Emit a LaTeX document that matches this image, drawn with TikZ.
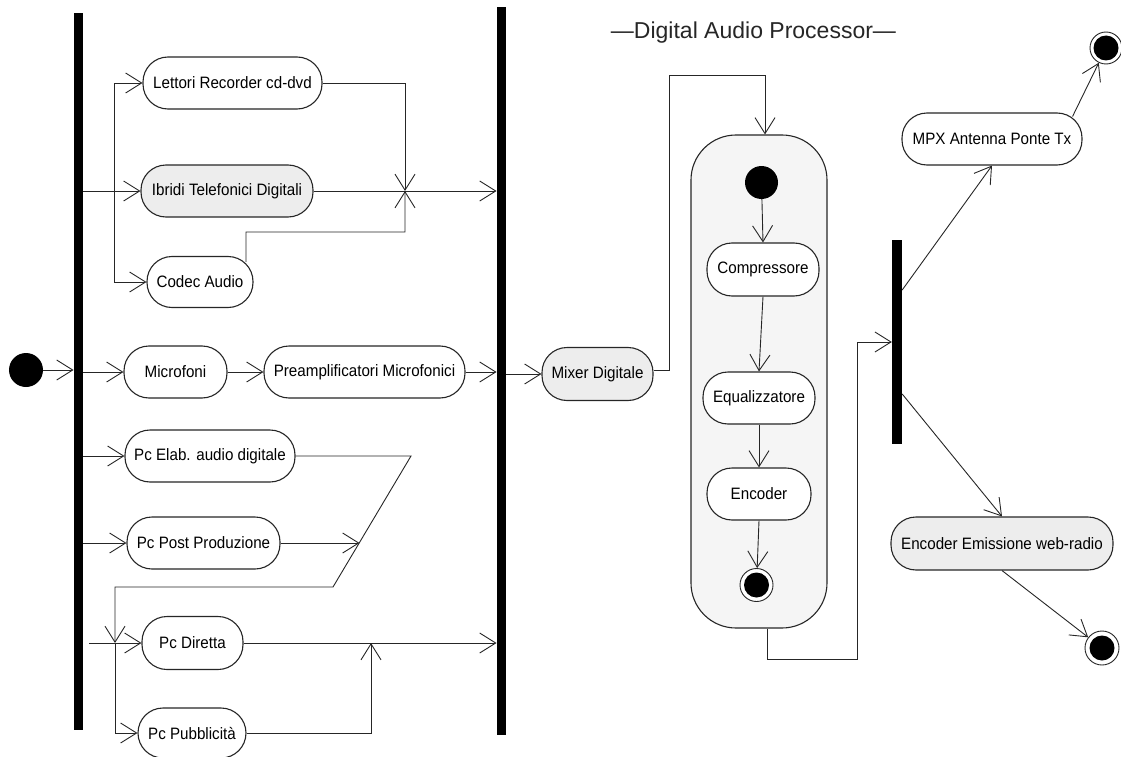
\documentclass[tikz,border=0pt]{standalone}
\usepackage{fontspec}
\setmainfont{Liberation Sans}
\newfontfamily\nodefont{Liberation Sans}[FakeStretch=0.92]
\usetikzlibrary{arrows.meta,calc}
\pgfdeclarelayer{back}
\pgfdeclarelayer{mid}
\pgfsetlayers{back,mid,main}

\begin{document}
\begin{tikzpicture}[x=1bp,y=-1bp,
  ink/.style={draw=black!85},
  act/.style={ink, line width=1.1bp, rounded corners=25bp, minimum height=52bp,
    inner sep=0pt, fill=white, font=\nodefont\fontsize{16.5bp}{19bp}\selectfont},
  shaded/.style={fill=gray!14},
  syncbar/.style={fill=black, draw=none, inner sep=0pt},
  initial/.style={circle, fill=black, inner sep=0pt, minimum size=34bp},
  final/.style={circle, draw=black!85, line width=0.9bp, fill=white, inner sep=0pt,
    minimum size=33bp,
    path picture={\fill[black] (path picture bounding box.center) circle (12.5bp);}},
  flow/.style={ink, line width=0.9bp, -{Straight Barb[length=16bp,width=20bp]}},
  wire/.style={ink, line width=0.9bp},
]
\useasboundingbox (0,0) rectangle (1121,757);

% title
\node[font=\fontsize{23bp}{27bp}\selectfont, text=black!85, anchor=base, inner sep=0pt]
  (title) at (753.5,38.5) {—Digital Audio Processor—};

% synchronisation bars
\node[syncbar, minimum width=9.5bp, minimum height=717bp] (barL) at (78.5,371.5) {};
\node[syncbar, minimum width=9.5bp, minimum height=728bp] (barM) at (501.5,371) {};
\node[syncbar, minimum width=10bp, minimum height=204bp] (barR) at (897,342) {};

% initial node
\node[initial] (start1) at (26,370) {};

% input sources
\node[act, minimum width=179bp] (lettori) at (232.5,83) {Lettori Recorder cd-dvd};
\node[act, shaded, minimum width=172bp] (ibridi) at (227,191) {Ibridi Telefonici Digitali};
\node[act, minimum width=106bp, minimum height=51bp] (codec) at (200,282) {Codec Audio};
\node[act, minimum width=103bp] (microfoni) at (175.5,372) {Microfoni};
\node[act, minimum width=201bp] (preamp) at (364.5,372) {Preamplificatori Microfonici};
\node[act, minimum width=170bp] (elab) at (210,456) {Pc Elab. audio digitale};
\node[act, minimum width=153bp] (post) at (203.5,543) {Pc Post Produzione};
\node[act, minimum width=101bp, minimum height=53bp] (diretta) at (192.5,643) {Pc Diretta};
\node[act, minimum width=108bp, minimum height=50bp] (pubbl) at (192,733) {Pc Pubblicità};

% mixer
\node[act, shaded, minimum width=111bp, minimum height=53bp] (mixer) at (597.5,374) {Mixer Digitale};

% digital audio processor
\begin{pgfonlayer}{back}
\node[ink, line width=1.1bp, fill=gray!8, rounded corners=45bp, inner sep=0pt,
  minimum width=136bp, minimum height=493bp] (dap) at (759,381.5) {};
\end{pgfonlayer}
\node[initial, minimum size=33bp] (start2) at (761.5,182.5) {};
\node[act, minimum width=112bp, minimum height=53bp] (compr) at (763,269.5) {Compressore};
\node[act, minimum width=112bp] (equal) at (759,398) {Equalizzatore};
\node[act, minimum width=104bp] (encoder) at (759,494) {Encoder};
\node[final] (end1) at (756.5,585) {};

% outputs
\node[act, minimum width=180bp] (mpx) at (992,139) {MPX Antenna Ponte Tx};
\node[act, shaded, minimum width=222bp, minimum height=53bp] (webradio) at (1002,543.5) {Encoder Emissione web-radio};
\node[final, minimum size=32bp] (end2) at (1106,48) {};
\node[final, minimum size=34bp] (end3) at (1102,648) {};

% routing points
\coordinate (fork1) at (114,191);
\coordinate (m1) at (405,191);
\coordinate (c1) at (246,232);
\coordinate (e1) at (411,456);
\coordinate (e2) at (333,587);
\coordinate (p1) at (359.5,543);
\coordinate (j2) at (115,643);
\coordinate (j3) at (371,643);
\coordinate (t1) at (669,75);
\coordinate (b1) at (857,659);

\begin{pgfonlayer}{mid}
% start and fork
\draw[flow] (start1) -- (start1 -| barL.west);
\draw[flow] (barL.east |- ibridi.west) -- (ibridi.west);
\draw[flow] (fork1) |- (lettori.west);
\draw[flow] (fork1) |- (codec.west);
% merge of the first group
\draw[flow] (lettori.east) -| (m1);
\draw[flow] ([xshift=46bp,yshift=-6bp]codec.north) -- (c1) -| (m1);
\draw[flow] (ibridi.east) -- (ibridi.east -| barM.west);
% microphones
\draw[flow] (barL.east |- microfoni.west) -- (microfoni.west);
\draw[flow] (microfoni) -- (preamp);
\draw[flow] (preamp.east) -- (preamp.east -| barM.west);
% computers
\draw[flow] (barL.east |- elab.west) -- (elab.west);
\draw[flow] (barL.east |- post.west) -- (post.west);
\draw[flow] ([xshift=6bp]barL.east |- diretta.west) -- (diretta.west);
\draw[flow] (elab.east) -- (e1) -- (e2) -| (j2);
\draw[flow] (post.east) -- (p1);
\draw[flow] (j2) |- (pubbl.west);
\draw[flow] (diretta.east) -- (diretta.east -| barM.west);
\draw[flow] (pubbl.east) -| (j3);
% mixer and processor
\draw[flow] (barM.east |- mixer.west) -- (mixer.west);
\draw[flow] ([yshift=4bp]mixer.east) -| (t1) -| ([xshift=6bp]dap.north);
\draw[flow] (start2) -- (compr.north);
\draw[flow] (compr.south) -- (equal.north);
\draw[flow] (equal.south) -- (encoder.north);
\draw[flow] (encoder.south) -- (end1);
\draw[flow] ([xshift=8bp]dap.south) |- (b1) |- (barR.west);
% outputs
\draw[flow] ([yshift=52bp]barR.east) -- (mpx.south);
\draw[flow] ([xshift=-10bp,yshift=-4bp]mpx.north east) -- (end2);
\draw[flow] ([yshift=-52bp]barR.east) -- (webradio.north);
\draw[flow] (webradio.south) -- (end3);
\end{pgfonlayer}
\end{tikzpicture}
\end{document}
